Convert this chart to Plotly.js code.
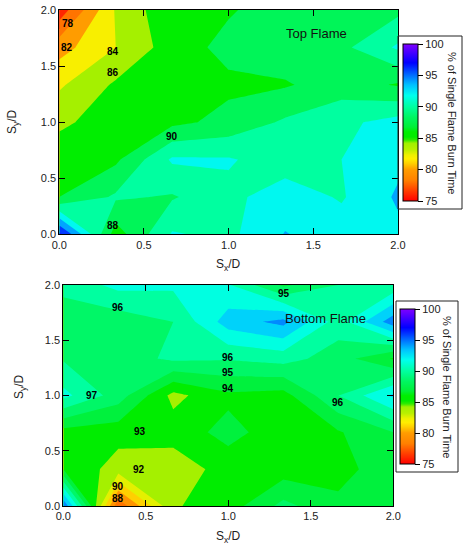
<!DOCTYPE html>
<html>
<head>
<meta charset="utf-8">
<script src="https://cdn.plot.ly/plotly-3.0.1.min.js"></script>
<style>
html,body{margin:0;padding:0;background:#ffffff;}
#chart{width:474px;height:550px;}
</style>
</head>
<body>
<div id="chart"></div>
<script>
// ---------------- DATA ----------------
// Sx/D and Sy/D measurement grid
const sxD = [0, 0.3333, 0.6667, 1, 1.3333, 1.6667, 2];
const syD = [0, 0.3333, 0.6667, 1, 1.3333, 1.6667, 2];

// Top flame: % of single flame burn time (rows = Sy/D from 0 to 2, columns = Sx/D from 0 to 2)
const topFlame = [
  [98.5, 87.0, 92.2, 91.5, 94.1, 93.0, 93.5],
  [88.0, 90.3, 89.8, 91.5, 93.0, 91.8, 94.3],
  [87.2, 87.6, 92.3, 92.2, 91.0, 92.0, 93.5],
  [85.6, 87.0, 87.5, 88.6, 90.3, 91.5, 92.8],
  [83.7, 86.3, 87.2, 87.6, 87.8, 89.0, 87.8],
  [81.2, 84.0, 87.0, 88.6, 89.2, 89.5, 92.3],
  [76.8, 84.2, 87.6, 87.8, 89.0, 89.3, 89.5]
];

// Bottom flame: % of single flame burn time
const bottomFlame = [
  [100.0, 88.2, 92.9, 93.5, 95.3, 94.2, 94.8],
  [94.0, 92.5, 92.3, 93.5, 93.5, 93.7, 94.5],
  [93.6, 93.4, 93.5, 94.3, 93.5, 93.9, 95.0],
  [97.3, 95.5, 92.7, 93.8, 93.6, 96.0, 98.2],
  [95.9, 95.5, 96.2, 96.1, 96.4, 95.5, 93.9],
  [95.4, 95.4, 96.0, 98.5, 99.3, 96.5, 99.6],
  [96.3, 97.3, 97.2, 97.1, 94.8, 96.0, 96.3]
];

// colour bar tick labels (as printed on both colour bars)
const colorbarTicks = [75, 80, 85, 90, 95, 100];
const axisTicks = [0, 0.5, 1.0, 1.5, 2.0];

// contour line labels printed on the plots
const topLabelText = ['78', '82', '84', '86', '90', '88'];
const bottomLabelText = ['96', '95', '96', '95', '94', '97', '96', '93', '92', '90', '88'];

// ---------------- STYLE ----------------
const FONT = 'Liberation Sans, Arial, Helvetica, sans-serif';
const W = 474, H = 550;
const px = v => v / W;
const py = v => 1 - v / H;

// rainbow colour bar (value in colour-bar units 75..100 -> colour)
const cbStops = [
  [75, '#ff0000'], [76.6, '#ff3c00'], [78.3, '#ff8000'], [80, '#ff9c00'],
  [81, '#ffd000'], [81.7, '#ffee00'], [82.3, '#f0f000'], [83.2, '#b8f000'], [84.2, '#a0f000'],
  [84.7, '#30ec00'], [85.2, '#00ec00'], [86, '#00ee00'], [86.8, '#00f038'],
  [88.3, '#00f660'], [90, '#00ffa0'], [91.8, '#00ffee'], [93.5, '#00c0ff'],
  [95.2, '#0064ff'], [97, '#0000ff'], [100, '#8000ff']
];
function hex2rgb(h) {
  return [parseInt(h.slice(1, 3), 16), parseInt(h.slice(3, 5), 16), parseInt(h.slice(5, 7), 16)];
}
function baseColor(c) {
  if (c <= cbStops[0][0]) return cbStops[0][1];
  if (c >= cbStops[cbStops.length - 1][0]) return cbStops[cbStops.length - 1][1];
  for (let i = 0; i < cbStops.length - 1; i++) {
    const a = cbStops[i], b = cbStops[i + 1];
    if (c >= a[0] && c <= b[0]) {
      const t = (c - a[0]) / (b[0] - a[0]);
      const A = hex2rgb(a[1]), B = hex2rgb(b[1]);
      const r = Math.round(A[0] + (B[0] - A[0]) * t);
      const g = Math.round(A[1] + (B[1] - A[1]) * t);
      const bl = Math.round(A[2] + (B[2] - A[2]) * t);
      return 'rgb(' + r + ',' + g + ',' + bl + ')';
    }
  }
  return cbStops[0][1];
}
function sampleScale(lo, hi, fn, n) {
  const out = [];
  for (let i = 0; i <= n; i++) {
    const s = i / n;
    out.push([s, fn(lo + s * (hi - lo))]);
  }
  return out;
}
// bottom flame: data value <-> colour bar units
const cB = v => 81 + (v - 90) * 1.5;
const vB = c => 90 + (c - 81) / 1.5;

// top contours: start 76, end 98, size 2 -> colour domain 75..99 ; band colour = lower level
const TOP = {start: 76, end: 98, size: 2};
const topContourScale = sampleScale(75, 99, v => baseColor(v - TOP.size / 2), 300);
// bottom contours: start 88, end 100, size 1 -> colour domain 87.5..100.5
const BOT = {start: 88, end: 100, size: 1};
const botContourScale = sampleScale(87.5, 100.5, v => baseColor(cB(v - BOT.size / 2)), 300);

const topBarScale = sampleScale(75, 100, baseColor, 300);
const botZmin = vB(75), botZmax = vB(100);
const botBarScale = sampleScale(botZmin, botZmax, v => baseColor(cB(v)), 300);

function colorbarCfg(xLeft, yTop, yBot, tickvals) {
  return {
    x: px(xLeft), xanchor: 'left', xpad: 0, xref: 'paper',
    y: (py(yTop) + py(yBot)) / 2, yanchor: 'middle', ypad: 0, yref: 'paper',
    len: (yBot - yTop) / H, lenmode: 'fraction',
    thickness: 15, thicknessmode: 'pixels',
    outlinewidth: 1, outlinecolor: '#000', borderwidth: 0,
    bgcolor: 'rgba(0,0,0,0)',
    tickmode: 'array', tickvals: tickvals, ticktext: colorbarTicks.map(String),
    ticks: 'outside', ticklen: 5, tickwidth: 1, tickcolor: '#000',
    tickfont: {family: FONT, size: 11, color: '#222'}
  };
}

const traces = [
  {
    type: 'heatmap', x: sxD, y: syD, z: topFlame, zmin: 75, zmax: 100,
    colorscale: topBarScale, showscale: true, hoverinfo: 'skip',
    xaxis: 'x', yaxis: 'y',
    colorbar: colorbarCfg(403, 44, 201, colorbarTicks)
  },
  {
    type: 'contour', x: sxD, y: syD, z: topFlame,
    autocontour: false,
    contours: {start: TOP.start, end: TOP.end, size: TOP.size, coloring: 'fill', showlines: false},
    line: {width: 0, smoothing: 0},
    colorscale: topContourScale, showscale: false, hoverinfo: 'skip',
    xaxis: 'x', yaxis: 'y'
  },
  {
    type: 'heatmap', x: sxD, y: syD, z: bottomFlame, zmin: botZmin, zmax: botZmax,
    colorscale: botBarScale, showscale: true, hoverinfo: 'skip',
    xaxis: 'x2', yaxis: 'y2',
    colorbar: colorbarCfg(400, 309, 464, colorbarTicks.map(vB))
  },
  {
    type: 'contour', x: sxD, y: syD, z: bottomFlame,
    autocontour: false,
    contours: {start: BOT.start, end: BOT.end, size: BOT.size, coloring: 'fill', showlines: false},
    line: {width: 0, smoothing: 0},
    colorscale: botContourScale, showscale: false, hoverinfo: 'skip',
    xaxis: 'x2', yaxis: 'y2'
  }
];

function axisCfg(domain, anchor) {
  return {
    domain: domain, anchor: anchor, range: [0, 2],
    tickmode: 'array', tickvals: axisTicks, tickformat: '.1f',
    ticks: 'inside', ticklen: 6, tickwidth: 1, tickcolor: '#000',
    showline: true, linecolor: '#000', linewidth: 1, mirror: 'ticks',
    showgrid: false, zeroline: false,
    tickfont: {family: FONT, size: 11, color: '#222'}
  };
}

// label placements (layout only)
const topLabelPos = [[0.05, 1.88], [0.045, 1.67], [0.32, 1.63], [0.32, 1.44], [0.665, 0.87], [0.32, 0.075]];
const botLabelPos = [[0.333, 1.80], [1.337, 1.925], [1.0, 1.346], [1.0, 1.206], [1.0, 1.065],
  [0.172, 0.998], [1.667, 0.935], [0.465, 0.67], [0.456, 0.332], [0.333, 0.175], [0.333, 0.066]];

const annotations = [];
const centered = {showarrow: false, xanchor: 'center', yanchor: 'middle'};
topLabelText.forEach((t, i) => annotations.push(Object.assign({
  xref: 'x', yref: 'y', x: topLabelPos[i][0], y: topLabelPos[i][1], text: '<b>' + t + '</b>',
  font: {family: FONT, size: 10, color: '#000'}
}, centered)));
bottomLabelText.forEach((t, i) => annotations.push(Object.assign({
  xref: 'x2', yref: 'y2', x: botLabelPos[i][0], y: botLabelPos[i][1], text: '<b>' + t + '</b>',
  font: {family: FONT, size: 10, color: '#000'}
}, centered)));
[
  {xref: 'x', yref: 'y', x: 1.52, y: 1.79, text: 'Top Flame', font: {family: FONT, size: 13, color: '#111'}},
  {xref: 'x2', yref: 'y2', x: 1.59, y: 1.70, text: 'Bottom Flame', font: {family: FONT, size: 13, color: '#111'}},
  // axis titles
  {xref: 'paper', yref: 'paper', x: px(228), y: py(265), text: 'S<sub>x</sub>/D',
   font: {family: FONT, size: 12, color: '#222'}},
  {xref: 'paper', yref: 'paper', x: px(13), y: py(122), text: 'S<sub>y</sub>/D', textangle: -90,
   font: {family: FONT, size: 12, color: '#222'}},
  {xref: 'paper', yref: 'paper', x: px(228), y: py(537), text: 'S<sub>x</sub>/D',
   font: {family: FONT, size: 12, color: '#222'}},
  {xref: 'paper', yref: 'paper', x: px(20), y: py(387), text: 'S<sub>y</sub>/D', textangle: -90,
   font: {family: FONT, size: 12, color: '#222'}},
  // colour bar titles
  {xref: 'paper', yref: 'paper', x: px(452), y: py(123), text: '% of Single Flame Burn Time', textangle: 90,
   font: {family: FONT, size: 11, color: '#222'}},
  {xref: 'paper', yref: 'paper', x: px(447), y: py(387), text: '% of Single Flame Burn Time', textangle: 90,
   font: {family: FONT, size: 11, color: '#222'}}
].forEach(a => annotations.push(Object.assign(a, centered)));

const layout = {
  width: W, height: H,
  margin: {l: 0, r: 0, t: 0, b: 0, pad: 0},
  paper_bgcolor: '#ffffff', plot_bgcolor: '#ffffff',
  showlegend: false,
  font: {family: FONT, size: 11, color: '#222'},
  xaxis: axisCfg([px(59.3), px(398)], 'y'),
  yaxis: axisCfg([py(234.3), py(10)], 'x'),
  xaxis2: axisCfg([px(63.3), px(393.3)], 'y2'),
  yaxis2: axisCfg([py(506), py(285)], 'x2'),
  annotations: annotations,
  shapes: [
    {type: 'rect', xref: 'paper', yref: 'paper', x0: px(398), x1: px(462), y0: py(209), y1: py(36),
     line: {color: '#222', width: 1}, fillcolor: 'rgba(0,0,0,0)', layer: 'above'},
    {type: 'rect', xref: 'paper', yref: 'paper', x0: px(396), x1: px(458), y0: py(472), y1: py(301),
     line: {color: '#222', width: 1}, fillcolor: 'rgba(0,0,0,0)', layer: 'above'}
  ]
};

Plotly.newPlot('chart', traces, layout, {staticPlot: true, displayModeBar: false});
</script>
</body>
</html>
